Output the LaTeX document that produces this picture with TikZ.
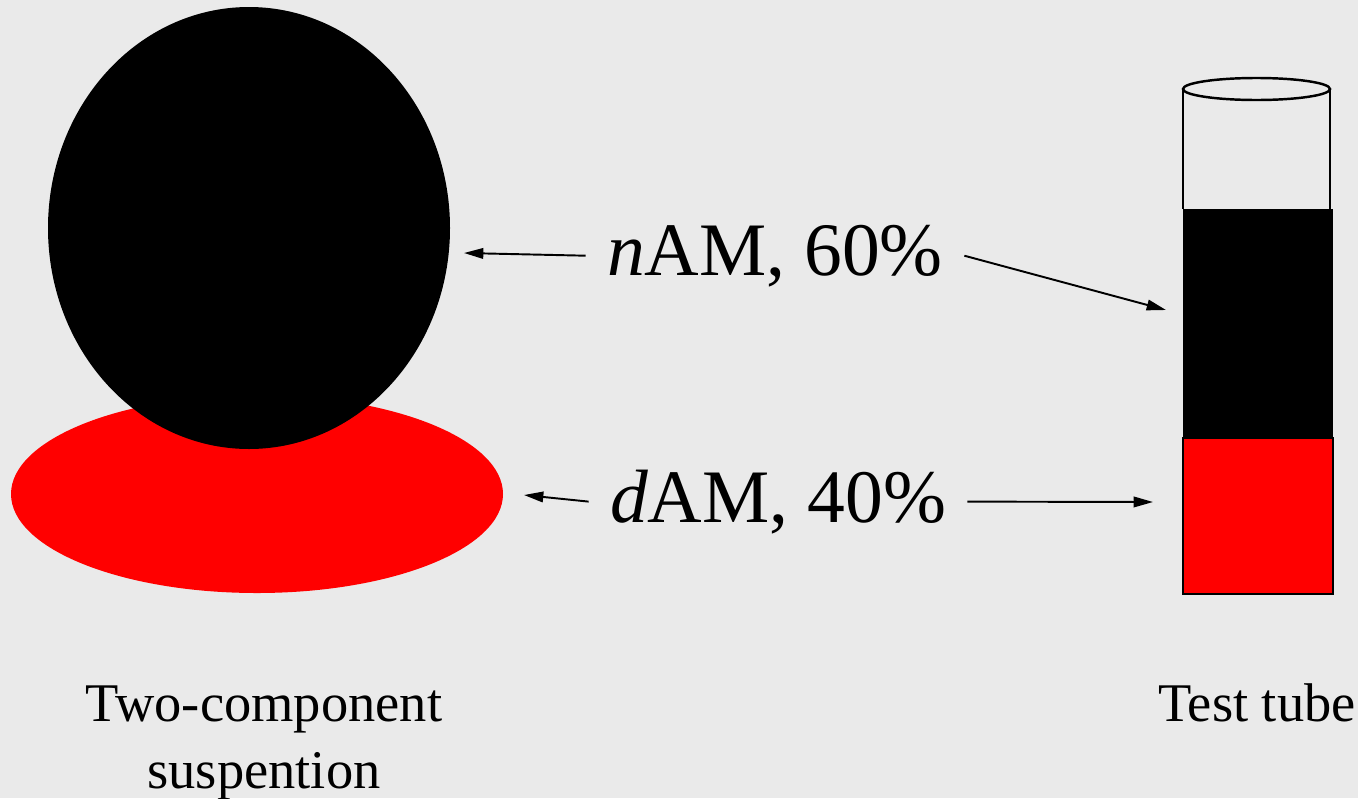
\documentclass[tikz,border=0pt]{standalone}
\usepackage{fontspec}
\setmainfont{Liberation Serif}
\usetikzlibrary{arrows.meta}
\definecolor{bggray}{RGB}{234,234,234}
\definecolor{suspred}{RGB}{255,0,0}
\tikzset{
	pct/.style={font=\fontsize{43}{50}\selectfont, inner sep=12pt},
	undertext/.style={font=\fontsize{31}{37.6}\selectfont, align=center},
	arr/.style={-{Triangle[length=11pt,width=6pt]}, line width=1.1pt},
	tubeline/.style={line width=1.4pt}
}
\begin{document}
\begin{tikzpicture}[x=0.02cm,y=-0.02cm]
	\useasboundingbox[fill=bggray] (0,0) rectangle (1358,798);
	% two-component suspension
	\fill[suspred] (257,494) circle [x radius=246, y radius=99];
	\fill[black] (249,228) circle [x radius=201, y radius=221];
	% test tube
	\draw[tubeline] (1256.5,89) circle [x radius=73.5, y radius=11];
	\draw[tubeline] (1183,89)--(1183,209);
	\draw[tubeline] (1330,89)--(1330,209);
	\fill[black] (1183,209) rectangle (1333,438);
	\draw[tubeline, fill=suspred] (1183,438) rectangle (1333,594);
	% labels
	\node[pct, anchor=base] (nam) at (775,275) {\textit{n}AM, 60\%};
	\node[pct, anchor=base] (dam) at (778,522) {\textit{d}AM, 40\%};
	\node[undertext, anchor=base] (susp) at (264,788) {Two-component\\suspention};
	\node[undertext, anchor=base] (tube) at (1257,721) {Test tube};
	% arrow ends
	\coordinate (ballpt) at (464,253);
	\coordinate (disc) at (524,495);
	\coordinate (blackpt) at (1166,310);
	\coordinate (redpt) at (1153,502);
	\draw[arr] (nam.west)--(ballpt);
	\draw[arr] (nam.east)--(blackpt);
	\draw[arr] (dam.west)--(disc);
	\draw[arr] (dam.east)--(redpt);
\end{tikzpicture}
\end{document}
